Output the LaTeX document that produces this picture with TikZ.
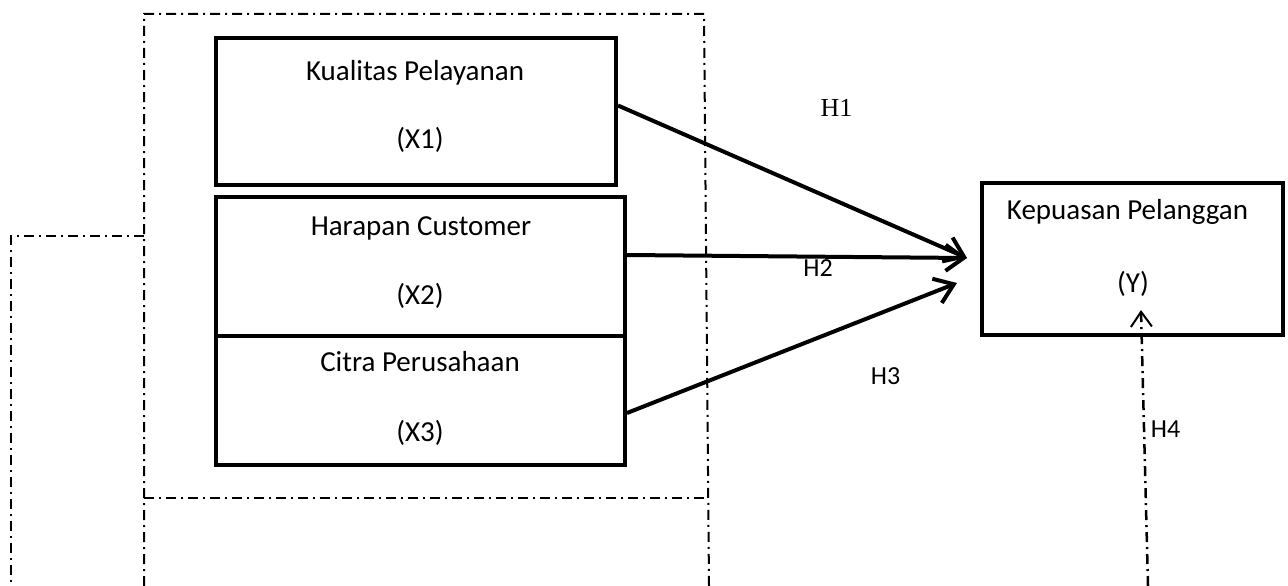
\documentclass[tikz,border=0pt]{standalone}
\usepackage{fontspec}
\setmainfont{Carlito}
\newfontfamily\hserif{Liberation Serif}
\usetikzlibrary{arrows.meta}
\begin{document}
\begin{tikzpicture}[x=1pt,y=-1pt,
  varbox/.style={draw,line width=4pt,inner sep=0pt},
  lbl/.style={inner sep=0pt,anchor=base,font=\fontsize{29}{31}\selectfont},
  hyp/.style={inner sep=0pt,anchor=base,font=\fontsize{26}{28}\selectfont},
  frame/.style={line width=2pt,dash pattern=on 10pt off 5pt on 2pt off 5pt},
  effect/.style={line width=4pt,-{Straight Barb[length=18pt,width=26pt]}}
]
\useasboundingbox (0,0) rectangle (1288,586);

% dash-dot grouping frame
\draw[frame] (144,586) -- (144,14) -- (704,14) -- (709,586);
\draw[frame] (144,498) -- (708,498);
\draw[frame] (144,236) -- (11,236) -- (11,586);

% independent variables
\node[varbox,minimum width=400pt,minimum height=147pt] (x1) at (416,111.5) {};
\node[varbox,minimum width=409pt,minimum height=139pt] (x2) at (420.5,266.5) {};
\node[varbox,minimum width=409pt,minimum height=129pt] (x3) at (420.5,400.5) {};
% dependent variable
\node[varbox,minimum width=301pt,minimum height=152pt] (y) at (1132.5,259) {};

\node[lbl] (x1a) at (415,81) {Kualitas Pelayanan};
\node[lbl] (x1b) at (420,148) {(X1)};
\node[lbl] (x2a) at (421,235) {Harapan Customer};
\node[lbl] (x2b) at (420,304) {(X2)};
\node[lbl] (x3a) at (420,371) {Citra Perusahaan};
\node[lbl] (x3b) at (420,441) {(X3)};
\node[lbl] (ya) at (1127.5,219) {Kepuasan Pelanggan};
\node[lbl] (yb) at (1133,292) {(Y)};

% arrow targets
\coordinate (tipA) at (967,258);
\coordinate (tipB) at (957,283);
\coordinate (h4top) at (1141,310);
\coordinate (h4low) at (1148,586);

\draw[effect] ([yshift=6pt]x1.east) -- (tipA);
\draw[effect] ([yshift=11.5pt]x2.east) -- (tipA);
\draw[effect] ([yshift=-12.5pt]x3.east) -- (tipB);
\draw[line width=2.5pt,dash pattern=on 10pt off 5pt on 2pt off 5pt,
      -{Straight Barb[length=15pt,width=21pt,line width=2pt]}] (h4low) -- (h4top);

% hypothesis labels
\node[hyp,font=\hserif\fontsize{26}{28}\selectfont] (h1) at (836.5,116) {H1};
\node[hyp] (h2) at (818,276) {H2};
\node[hyp] (h3) at (885.5,384) {H3};
\node[hyp] (h4) at (1165.5,437) {H4};
\end{tikzpicture}
\end{document}
